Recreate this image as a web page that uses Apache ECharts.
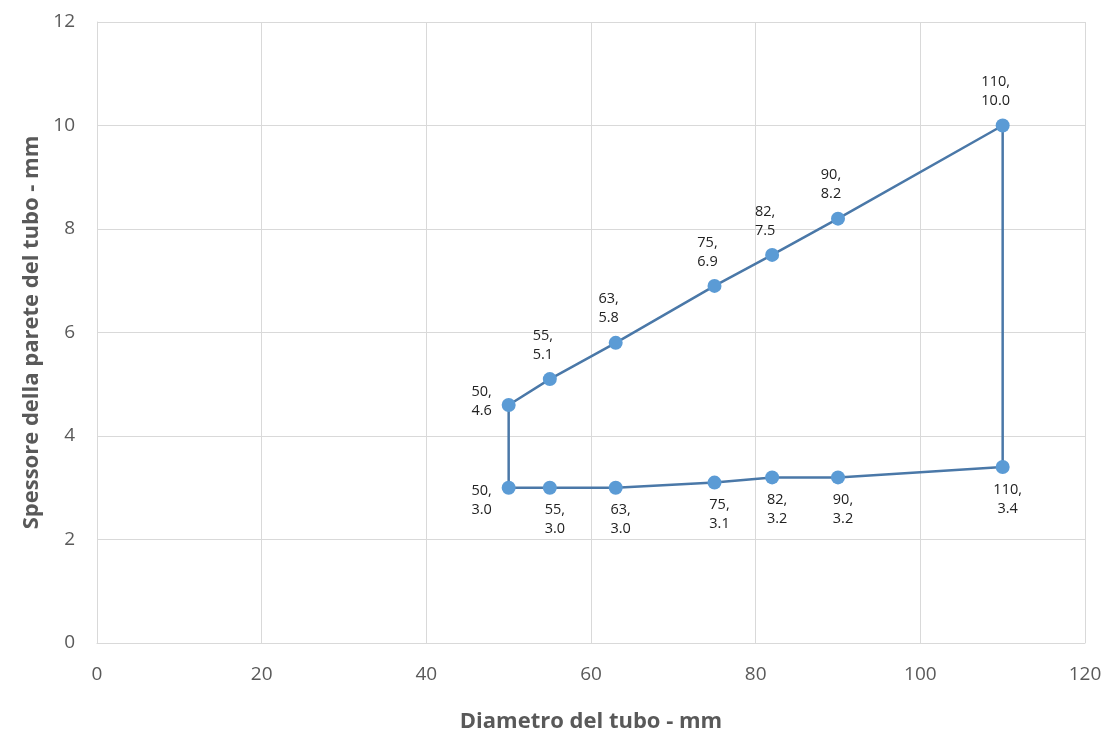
<!DOCTYPE html>
<html><head><meta charset="utf-8">
<script src="https://cdn.jsdelivr.net/npm/echarts@6/dist/echarts.min.js"></script>
<style>html,body{margin:0;padding:0;background:#fff}#c{width:1110px;height:733px}</style>
</head><body><div id="c"></div>
<script>
const diam = [50, 55, 63, 75, 82, 90, 110];
const lowerWall = [3.0, 3.0, 3.0, 3.1, 3.2, 3.2, 3.4];
const upperWall = [4.6, 5.1, 5.8, 6.9, 7.5, 8.2, 10.0];
const xTitle = 'Diametro del tubo - mm';
const yTitle = 'Spessore della parete del tubo - mm';

const lowerPts = diam.map((d, i) => [d, lowerWall[i]]);
const upperPts = diam.map((d, i) => [d, upperWall[i]]);
// closed path: lower line, up at 110, upper line back, down at 50
const path = lowerPts.concat(upperPts.slice().reverse()).concat([lowerPts[0]]);

const fontFam = '"Open Sans", "Noto Sans", sans-serif';
const fmt = p => p.value[0] + ',\n' + p.value[1].toFixed(1);

const lowerData = lowerPts.map((p, i) => i === 0
  ? {value: p, label: {position: 'left', offset: [-12, 13], distance: 8}}
  : {value: p});
const upperData = upperPts.map((p, i) => i === 0
  ? {value: p, label: {position: 'left', offset: [-10, -4], distance: 10}}
  : {value: p});

const chart = echarts.init(document.getElementById('c'));
chart.setOption({
  animation: false,
  grid: {left: 97, right: 25, top: 22, bottom: 90, outerBoundsMode: 'none', containLabel: false},
  xAxis: {
    type: 'value', min: 0, max: 120, interval: 20,
    name: xTitle, nameLocation: 'middle', nameGap: 68,
    nameTextStyle: {fontFamily: fontFam, fontSize: 22, fontWeight: 'bold', color: '#595959'},
    axisLine: {show: true, lineStyle: {color: '#d9d9d9'}},
    axisTick: {show: false},
    axisLabel: {fontFamily: fontFam, fontSize: 19, color: '#595959', margin: 22},
    splitLine: {show: true, lineStyle: {color: '#d9d9d9'}}
  },
  yAxis: {
    type: 'value', min: 0, max: 12, interval: 2,
    name: yTitle, nameLocation: 'middle', nameGap: 53,
    nameTextStyle: {fontFamily: fontFam, fontSize: 22, fontWeight: 'bold', color: '#595959'},
    axisLine: {show: true, lineStyle: {color: '#d9d9d9'}},
    axisTick: {show: false},
    axisLabel: {fontFamily: fontFam, fontSize: 19, color: '#595959', margin: 22},
    splitLine: {show: true, lineStyle: {color: '#d9d9d9'}}
  },
  series: [
    {
      type: 'line', data: path, showSymbol: false, symbol: 'none',
      lineStyle: {color: '#4a78a8', width: 2.5}, z: 2, emphasis: {disabled: true}
    },
    {
      type: 'scatter', data: lowerData, symbolSize: 14,
      itemStyle: {color: '#5b9bd5', opacity: 1}, z: 3,
      label: {
        show: true, formatter: fmt, position: 'bottom', distance: 6, offset: [5, 0],
        fontFamily: fontFam, fontSize: 14.5, lineHeight: 19, color: '#222', align: 'center'
      },
      emphasis: {disabled: true}
    },
    {
      type: 'scatter', data: upperData, symbolSize: 14,
      itemStyle: {color: '#5b9bd5', opacity: 1}, z: 3,
      label: {
        show: true, formatter: fmt, position: 'top', distance: 8, offset: [-7, 0],
        fontFamily: fontFam, fontSize: 14.5, lineHeight: 19, color: '#222', align: 'center'
      },
      emphasis: {disabled: true}
    }
  ]
});
</script>
</body></html>
